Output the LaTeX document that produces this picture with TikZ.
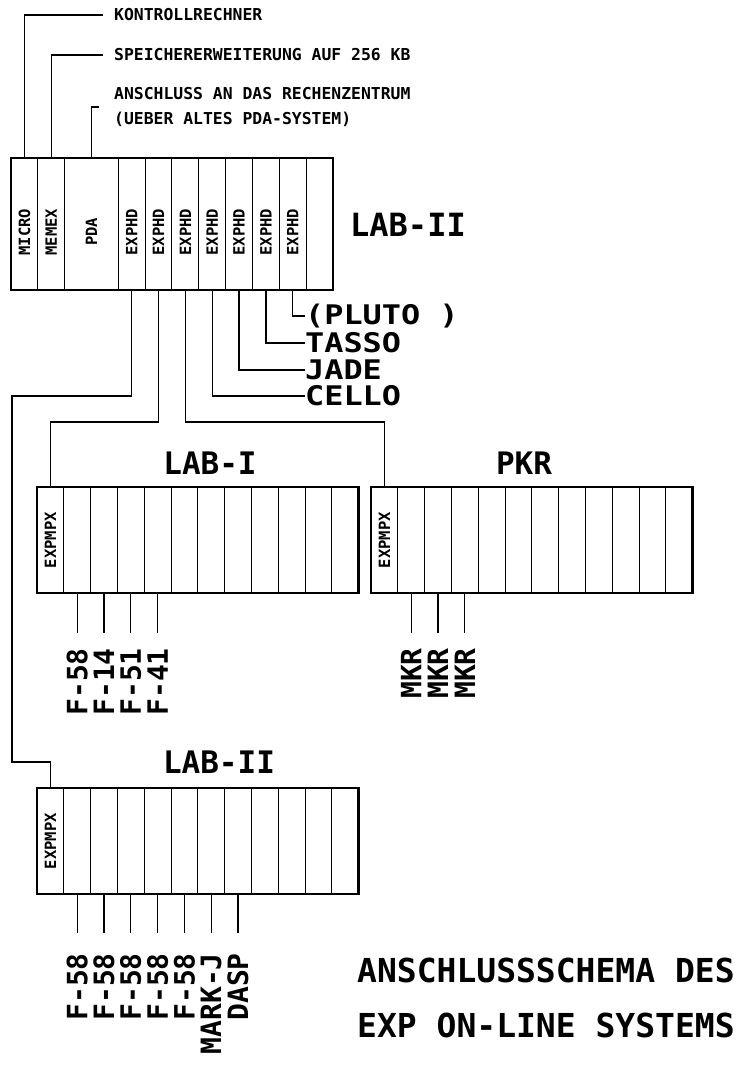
\documentclass[tikz,border=0pt]{standalone}
\usepackage{fontspec}
\newfontfamily\plotter{DejaVu Sans Mono}
\newfontfamily\plotterwide{DejaVu Sans Mono}[FakeStretch=1.18]
\usetikzlibrary{fit}

\begin{document}
\begin{tikzpicture}
    [x=1pt, y=-1pt,
    line/.style={draw, line width=1.3pt},
    slot/.style={
        draw,
        line width=1pt,
        anchor=north west,
        inner sep=0pt, outer sep=0pt,
        minimum width=26.8pt,
        minimum height=#1
    },
    slot/.default=106pt,
    crate/.style={draw, line width=2.8pt, inner sep=0pt},
    slottext/.style={rotate=90, inner sep=0pt, font=\plotter\bfseries\fontsize{15.5}{15.5}\selectfont},
    sysname/.style={inner sep=0pt, font=\plotter\bfseries\fontsize{31}{31}\selectfont},
    expname/.style={anchor=west, inner sep=0pt, font=\plotterwide\bfseries\fontsize{27}{27}\selectfont},
    note/.style={anchor=west, inner sep=0pt, align=left, font=\plotter\bfseries\fontsize{16.4}{25}\selectfont},
    chantag/.style={rotate=90, anchor=east, inner sep=0pt, font=\plotter\bfseries\fontsize{28}{28}\selectfont},
    headline/.style={anchor=west, inner sep=0pt, font=\plotter\bfseries\fontsize{33}{33}\selectfont}
    ]
    \useasboundingbox (0,0) rectangle (745,1070);

    % LAB-II Rechner oben
    \node[slot=132pt] (micro) at (11,158) {};
    \node[slot=132pt] (memex) at (37.83,158) {};
    \node[slot=132pt, minimum width=53.67pt] (pda) at (64.67,158) {};
    \foreach \i in {1,...,7}
        \node[slot=132pt] (hd\i) at ({91.5+\i*26.83},158) {};
    \node[slot=132pt] (spare) at (306.17,158) {};
    \node[crate, fit=(micro) (spare)] (labIIa) {};
    \foreach \s/\t in {micro/MICRO, memex/MEMEX, pda/PDA, hd1/EXPHD, hd2/EXPHD, hd3/EXPHD, hd4/EXPHD, hd5/EXPHD, hd6/EXPHD, hd7/EXPHD}
        \node[slottext] (\s-text) at ([yshift=-8pt]\s.center) {\t};
    \node[sysname, anchor=west, font=\plotter\bfseries\fontsize{32}{32}\selectfont] (labIIaname) at (350,225) {LAB-II};

    % Beschriftung oben
    \node[note] (kontroll) at (114,15) {KONTROLLRECHNER};
    \node[note] (speicher) at (114,55) {SPEICHERERWEITERUNG AUF 256 KB};
    \node[note] (anschluss) at (114,107) {ANSCHLUSS AN DAS RECHENZENTRUM\\(UEBER ALTES PDA-SYSTEM)};
    \draw[line, shorten >=11pt] (micro.north) |- (kontroll.west);
    \draw[line, shorten >=11pt] (memex.north) |- (speicher.west);
    \draw[line, shorten >=15pt] (pda.north) |- (anschluss.west);

    % Experimente
    \foreach \i/\exp/\y in {4/CELLO/396, 5/JADE/370, 6/TASSO/343, 7/{(PLUTO )}/316}{
        \node[expname] (exp\i) at (305,\y) {\exp};
        \draw[line] (hd\i.south) |- (exp\i.west);
    }

    % Untere Rechner
    \foreach \crt/\x/\y in {la/37/487, pk/371/487, lb/37/788}{
        \foreach \i in {1,...,12}
            \node[slot] (\crt\i) at ({\x+(\i-1)*26.8},\y) {};
        \node[crate, fit=(\crt1) (\crt12)] (\crt) {};
        \node[slottext] (\crt1-text) at (\crt1) {EXPMPX};
    }
    \node[sysname] (laname) at (210,463) {LAB-I};
    \node[sysname] (pkname) at (524,463) {PKR};
    \node[sysname] (lbname) at (219,762) {LAB-II};

    % Verbindungen
    \coordinate (detour) at (12,762);
    \draw[line] (hd1.south) |- (detour |- exp4.west) -- (detour) -| (lb1.north);
    \draw[line] (hd2.south) -- ++(0,132) -| (la1.north);
    \draw[line] (hd3.south) -- ++(0,132) -| (pk1.north);

    % Kanaele
    \foreach \i/\t in {2/F-58, 3/F-14, 4/F-51, 5/F-41}{
        \node[chantag] (la\i-tag) at ([yshift=-55pt]la\i.south) {\t};
        \draw[line, shorten >=15pt] (la\i.south) -- (la\i-tag.east);
    }
    \foreach \i in {2,3,4}{
        \node[chantag] (pk\i-tag) at ([yshift=-55pt]pk\i.south) {MKR};
        \draw[line, shorten >=15pt] (pk\i.south) -- (pk\i-tag.east);
    }
    \foreach \i/\t in {2/F-58, 3/F-58, 4/F-58, 5/F-58, 6/F-58, 7/MARK-J, 8/DASP}{
        \node[chantag] (lb\i-tag) at ([yshift=-59pt]lb\i.south) {\t};
        \draw[line, shorten >=20pt] (lb\i.south) -- (lb\i-tag.east);
    }

    \node[headline] (head1) at (357,970) {ANSCHLUSSSCHEMA DES};
    \node[headline] (head2) at (357,1025) {EXP ON-LINE SYSTEMS};
\end{tikzpicture}
\end{document}
